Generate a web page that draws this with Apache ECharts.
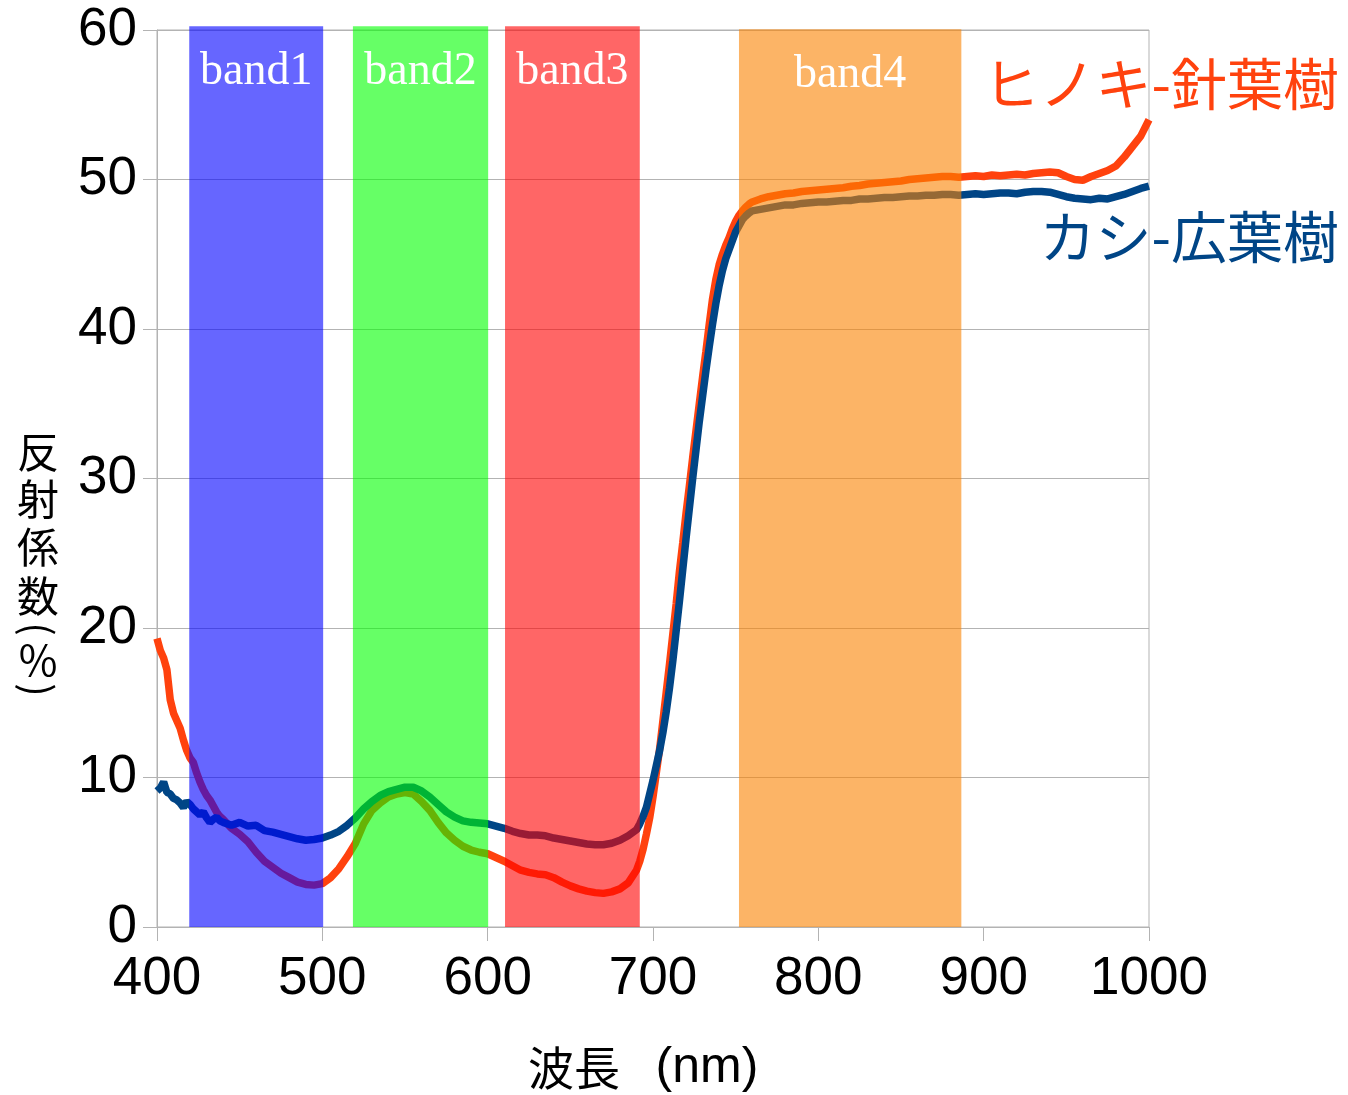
<!DOCTYPE html>
<html>
<head>
<meta charset="utf-8">
<script src="https://cdn.jsdelivr.net/npm/echarts@6/dist/echarts.min.js"></script>
<style>
  html, body { margin: 0; padding: 0; background: #fff; }
  #chart { width: 1348px; height: 1095px; }
</style>
</head>
<body>
<div id="chart"></div>
<script>
// Wavelength samples (nm)
const wavelengths = [
  400,402,404,406,408,410,412,414,416,418,420,422,424,426,428,430,432,434,436,438,440,
  445,450,455,460,465,470,475,480,485,490,495,500,505,510,515,520,525,530,535,540,545,
  550,555,560,565,570,575,580,585,590,595,600,605,610,615,620,625,630,635,640,645,650,
  655,660,665,670,675,680,685,690,
  692,694,696,698,700,702,704,706,708,710,712,714,716,718,720,722,724,726,728,730,
  732,734,736,738,740,742,744,746,748,750,752,754,756,758,760,
  765,770,775,780,785,790,795,800,805,810,815,820,825,830,835,840,845,850,855,860,
  865,870,875,880,885,890,895,900,905,910,915,920,925,930,935,940,945,950,955,960,
  965,970,975,980,985,990,995,1000
];

// ヒノキ (conifer) reflectance, %
const hinoki = [
  19.3,18.5,18.0,17.2,15.2,14.3,13.8,13.3,12.5,11.8,11.3,11.0,10.3,9.7,9.2,8.8,8.5,8.1,7.7,7.4,7.2,
  6.6,6.2,5.7,5.0,4.4,4.0,3.6,3.3,3.0,2.85,2.8,2.9,3.3,3.9,4.7,5.6,6.9,7.8,8.3,8.7,8.9,
  9.0,8.9,8.4,7.8,7.0,6.3,5.8,5.4,5.15,5.0,4.9,4.65,4.4,4.1,3.8,3.65,3.55,3.5,3.3,3.0,2.75,
  2.55,2.4,2.3,2.25,2.35,2.55,2.95,3.8,
  4.4,5.2,6.2,7.3,8.7,10.3,11.9,13.8,15.7,17.6,19.6,21.6,23.8,25.7,27.7,29.5,31.4,33.2,35.0,36.8,
  38.5,40.3,42.0,43.3,44.3,45.0,45.6,46.1,46.7,47.2,47.6,47.9,48.15,48.35,48.5,
  48.7,48.85,48.95,49.05,49.1,49.2,49.25,49.3,49.35,49.4,49.45,49.55,49.6,49.7,49.75,49.8,49.85,49.9,50.0,50.05,
  50.1,50.15,50.2,50.2,50.15,50.2,50.25,50.2,50.3,50.25,50.3,50.35,50.3,50.4,50.45,50.5,50.45,50.2,50.0,49.95,
  50.2,50.4,50.6,50.9,51.5,52.2,52.9,54.0
];

// カシ (broadleaf) reflectance, %
const kashi = [
  9.1,9.3,9.7,9.0,8.9,8.6,8.5,8.3,8.0,8.4,8.2,7.9,7.7,7.5,7.7,7.3,7.0,7.2,7.35,7.1,7.0,
  6.8,7.0,6.75,6.8,6.45,6.35,6.2,6.05,5.9,5.8,5.85,5.95,6.15,6.4,6.8,7.3,7.9,8.4,8.8,9.05,9.2,
  9.35,9.35,9.1,8.7,8.2,7.7,7.35,7.1,7.0,6.95,6.9,6.75,6.6,6.4,6.25,6.15,6.15,6.1,5.95,5.85,5.75,
  5.65,5.55,5.5,5.5,5.6,5.8,6.1,6.5,
  6.9,7.4,8.0,8.9,9.8,10.8,11.8,13.0,14.4,16.0,17.8,19.8,21.8,23.9,26.0,28.0,30.0,31.9,33.8,35.5,
  37.2,38.8,40.3,41.7,42.9,43.9,44.7,45.3,45.9,46.5,46.9,47.3,47.55,47.75,47.9,
  48.0,48.1,48.2,48.3,48.3,48.4,48.45,48.5,48.5,48.55,48.6,48.6,48.7,48.7,48.75,48.8,48.8,48.85,48.9,48.9,
  48.95,48.95,49.0,49.0,48.95,49.0,49.05,49.0,49.05,49.1,49.1,49.05,49.15,49.2,49.2,49.15,49.0,48.85,48.75,48.7,
  48.65,48.75,48.7,48.85,49.0,49.2,49.4,49.55
];

// Spectral bands: name, start (nm), end (nm), top (%)
const bandNames = ['band1', 'band2', 'band3', 'band4'];
const bandStart = [419.5, 518.5, 610.5, 752];
const bandEnd   = [500.5, 600.3, 692, 886.5];
const bandTop   = [60.25, 60.25, 60.25, 60.05];
const bandColors = ['rgba(0,0,255,0.6)', 'rgba(0,255,0,0.6)', 'rgba(255,0,0,0.6)', 'rgba(250,130,0,0.6)'];

const xTicks = { min: 400, max: 1000, step: 100 };
const yTicks = { min: 0, max: 60, step: 10 };

const seriesNames = ['ヒノキ-針葉樹', 'カシ-広葉樹'];
const seriesColors = ['#ff420e', '#004586'];
const xTitleParts = ['波長', '(nm)'];
const yTitleChars = ['反', '射', '係', '数', '(', '%', ')'];

const toPairs = (ys) => wavelengths.map((w, i) => [w, ys[i]]);
const bandRows = bandNames.map((n, i) => [bandStart[i], bandEnd[i], bandTop[i], i]);

const gridColor = '#b3b3b3';
const axisFont = 'Liberation Sans, Arial, sans-serif';
const cjkFont = '"Noto Sans CJK JP", sans-serif';

const chart = echarts.init(document.getElementById('chart'), null, { renderer: 'canvas' });

// vertical axis title: one glyph per row, parentheses turned to their vertical form
const yTitleY = [452, 499, 547, 596, 629, 660, 690];
const yTitleGraphics = yTitleChars.map((c, i) => {
  const paren = c === '(' || c === ')';
  return {
    type: 'text', x: 38, y: yTitleY[i], z: 10,
    rotation: paren ? -Math.PI / 2 : 0,
    style: {
      text: c, fill: '#000',
      font: (paren ? '40px ' : '42px ') + cjkFont,
      align: 'center', verticalAlign: 'middle'
    }
  };
});

chart.setOption({
  animation: false,
  backgroundColor: '#fff',
  grid: {
    left: 157, right: 199, top: 30, bottom: 168,
    show: true, borderColor: gridColor, borderWidth: 1, backgroundColor: 'transparent'
  },
  xAxis: {
    type: 'value',
    min: xTicks.min, max: xTicks.max, interval: xTicks.step,
    axisLine: { show: true, lineStyle: { color: gridColor, width: 1 } },
    axisTick: { show: true, length: 14, lineStyle: { color: gridColor } },
    axisLabel: { fontSize: 53, color: '#000', fontFamily: axisFont, margin: 26, formatter: (v) => String(v) },
    splitLine: { show: false }
  },
  yAxis: {
    type: 'value',
    min: yTicks.min, max: yTicks.max, interval: yTicks.step,
    axisLine: { show: true, lineStyle: { color: gridColor, width: 1 } },
    axisTick: { show: true, length: 14, lineStyle: { color: gridColor } },
    axisLabel: { fontSize: 53, color: '#000', fontFamily: axisFont, margin: 20, formatter: (v) => String(v) },
    splitLine: { show: true, lineStyle: { color: gridColor, width: 1 } }
  },
  series: [
    {
      name: seriesNames[0],
      type: 'line',
      data: toPairs(hinoki),
      showSymbol: false,
      symbol: 'none',
      z: 2,
      lineStyle: { color: seriesColors[0], width: 7.5 },
      itemStyle: { color: seriesColors[0] }
    },
    {
      name: seriesNames[1],
      type: 'line',
      data: toPairs(kashi),
      showSymbol: false,
      symbol: 'none',
      z: 2,
      lineStyle: { color: seriesColors[1], width: 7.5 },
      itemStyle: { color: seriesColors[1] }
    },
    {
      // translucent spectral bands laid over the curves
      name: 'bands',
      type: 'custom',
      z: 5,
      silent: true,
      data: bandRows,
      encode: { x: [0, 1], y: 2 },
      renderItem: (params, api) => {
        const idx = api.value(3);
        const p0 = api.coord([api.value(0), 0]);
        const p1 = api.coord([api.value(1), api.value(2)]);
        return {
          type: 'rect',
          shape: { x: p0[0], y: p1[1], width: p1[0] - p0[0], height: p0[1] - p1[1] },
          style: { fill: bandColors[idx] },
          textContent: {
            style: {
              text: bandNames[idx],
              fill: '#fff',
              font: '46px "Liberation Serif", "Times New Roman", serif'
            }
          },
          textConfig: { position: 'insideTop', distance: 23 }
        };
      }
    }
  ],
  graphic: [
    {
      type: 'text', right: 9, top: 56, z: 10,
      style: { text: seriesNames[0], fill: seriesColors[0], font: '56px ' + cjkFont }
    },
    {
      type: 'text', right: 9, top: 209, z: 10,
      style: { text: seriesNames[1], fill: seriesColors[1], font: '56px ' + cjkFont }
    },
    {
      type: 'text', x: 574, y: 1068, z: 10,
      style: { text: xTitleParts[0], fill: '#000', font: '46px ' + cjkFont, align: 'center', verticalAlign: 'middle' }
    },
    {
      type: 'text', x: 707, y: 1068, z: 10,
      style: { text: xTitleParts[1], fill: '#000', font: '50px ' + axisFont, align: 'center', verticalAlign: 'middle' }
    }
  ].concat(yTitleGraphics)
});
</script>
</body>
</html>
